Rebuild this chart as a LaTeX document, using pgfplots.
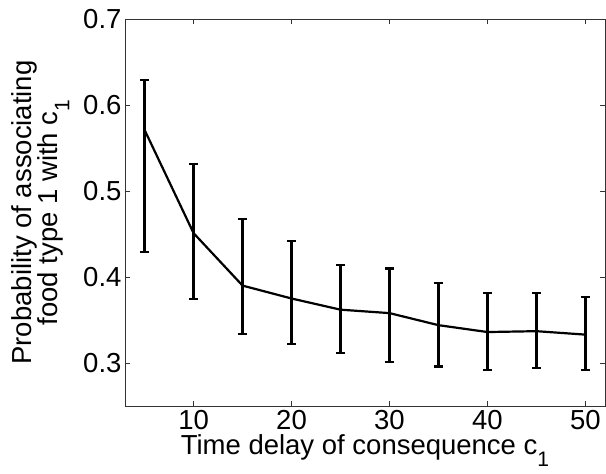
\documentclass[border=0pt]{standalone}
\usepackage{pgfplots}
\pgfplotsset{compat=1.18}
\usepackage{fontspec}
\setmainfont{Liberation Sans}
\newcommand\sub[1]{\raisebox{-0.42em}{\fontsize{21}{21}\selectfont #1}}
\begin{document}
\begin{tikzpicture}
\begin{axis}[
  scale only axis,
  width=480pt, height=387pt,
  xmin=3, xmax=52, ymin=0.25, ymax=0.7,
  xtick={10,20,30,40,50},
  ytick={0.3,0.4,0.5,0.6,0.7},
  yticklabel style={/pgf/number format/fixed,/pgf/number format/precision=1},
  /pgf/number format/assume math mode=true,
  tick align=inside,
  major tick length=5pt,
  axis line style={black!80, line width=0.8pt},
  every tick/.style={black!80, line width=0.8pt},
  ticklabel style={font=\fontsize{27.5}{27.5}\selectfont},
  xticklabel style={yshift=-1pt},
  yticklabel style={xshift=0pt},
  label style={font=\fontsize{27.5}{24}\selectfont},
  xlabel={Time delay of consequence c\sub{1}},
  xlabel style={at={(axis description cs:0.5,0)}, anchor=base, yshift=-49pt},
  ylabel={Probability of associating\\food type 1 with c\sub{1}},
  ylabel style={align=center, at={(axis description cs:0,0.5)}, anchor=south, yshift=52pt},
]
\addplot[black, line width=2.2pt, mark=none,
  error bars/.cd, y dir=both, y explicit,
  error bar style={line width=2.2pt},
  error mark options={rotate=90, mark size=4.5pt, line width=2.2pt}]
  table[x=x, y=y, y error plus=ep, y error minus=em] {
x y ep em
5 0.571 0.058 0.142
10 0.451 0.080 0.077
15 0.390 0.077 0.056
20 0.375 0.067 0.053
25 0.362 0.052 0.050
30 0.358 0.052 0.057
35 0.344 0.049 0.048
40 0.336 0.045 0.044
45 0.337 0.044 0.043
50 0.333 0.044 0.041
};
\end{axis}
\path (current axis.south west) +(-125pt,-68pt) rectangle +(481pt,406pt);
\end{tikzpicture}
\end{document}
